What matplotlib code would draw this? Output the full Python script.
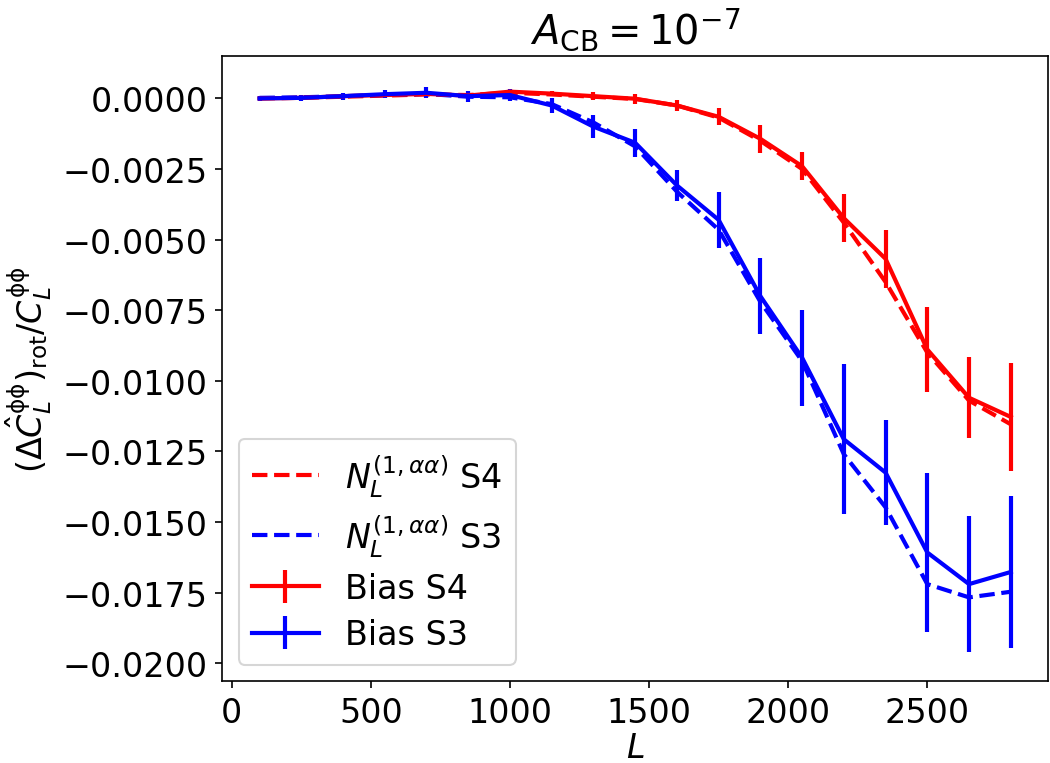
import matplotlib
matplotlib.use("Agg")
import matplotlib.pyplot as plt
import numpy as np

# multipole bins
L = np.arange(100, 2801, 150)

# N_L^(1,aa) predictions
n1_s4 = [0.0, 0.00002, 0.00006, 0.00010, 0.00014, 0.00012, 0.00020, 0.00014, 0.00006, -0.00002,
         -0.00025, -0.00068, -0.00150, -0.00250, -0.00440, -0.00650, -0.00900, -0.01070, -0.01154]
n1_s3 = [0.00002, 0.00004, 0.00008, 0.00012, 0.00016, 0.00006, 0.00004, -0.00020, -0.00085, -0.00170,
         -0.00330, -0.00465, -0.00720, -0.00930, -0.01260, -0.01448, -0.01720, -0.01767, -0.01747]

# measured bias with errors
bias_s4 = [0.0, 0.00002, 0.00008, 0.00012, 0.00016, 0.00010, 0.00024, 0.00017, 0.00008, -0.00001,
           -0.00025, -0.00065, -0.00143, -0.00240, -0.00424, -0.00568, -0.00889, -0.01060, -0.01128]
err_s4 = [0.00005, 0.00005, 0.00006, 0.00007, 0.00008, 0.00008, 0.0001, 0.0001, 0.00013, 0.00018,
          0.0002, 0.0003, 0.0005, 0.0005, 0.00086, 0.00102, 0.0015, 0.00143, 0.0019]
bias_s3 = [0.0, 0.00002, 0.00008, 0.00015, 0.0002, 0.00008, 0.00012, -0.00025, -0.00100, -0.00157,
           -0.00308, -0.00430, -0.00700, -0.00918, -0.01207, -0.01325, -0.01608, -0.01720, -0.01677]
err_s3 = [0.00008, 0.0001, 0.00012, 0.00015, 0.0002, 0.0002, 0.0002, 0.00025, 0.0004, 0.0005,
          0.00056, 0.001, 0.00135, 0.0017, 0.00265, 0.00185, 0.0028, 0.0024, 0.0027]

plt.rcParams["font.size"] = 16
plt.rcParams["lines.linewidth"] = 2

fig = plt.figure(figsize=(7, 5.093), dpi=150)
ax = fig.add_axes([0.2114, 0.107, 0.787, 0.818])

ax.plot(L, n1_s4, "r--", label=r"$N_L^{(1,\alpha\alpha)}$ S4")
ax.plot(L, n1_s3, "b--", label=r"$N_L^{(1,\alpha\alpha)}$ S3")
ax.errorbar(L, bias_s4, yerr=err_s4, color="r", label="Bias S4")
ax.errorbar(L, bias_s3, yerr=err_s3, color="b", label="Bias S3")

ax.set_xlim(-35, 2935)
ax.set_ylim(-0.02064, 0.00149)
ax.set_xlabel(r"$L$", labelpad=1)
ax.set_ylabel(r"$(\Delta \hat{C}_L^{\mathrm{\phi\phi}})_{\rm rot}/C_L^{\mathrm{\phi\phi}}$")
ax.set_title(r"$A_{\rm CB} = 10^{-7}$", fontsize=19.2)
ax.legend(loc="lower left", labelspacing=0.4)

fig.savefig("out.png", dpi=150)
